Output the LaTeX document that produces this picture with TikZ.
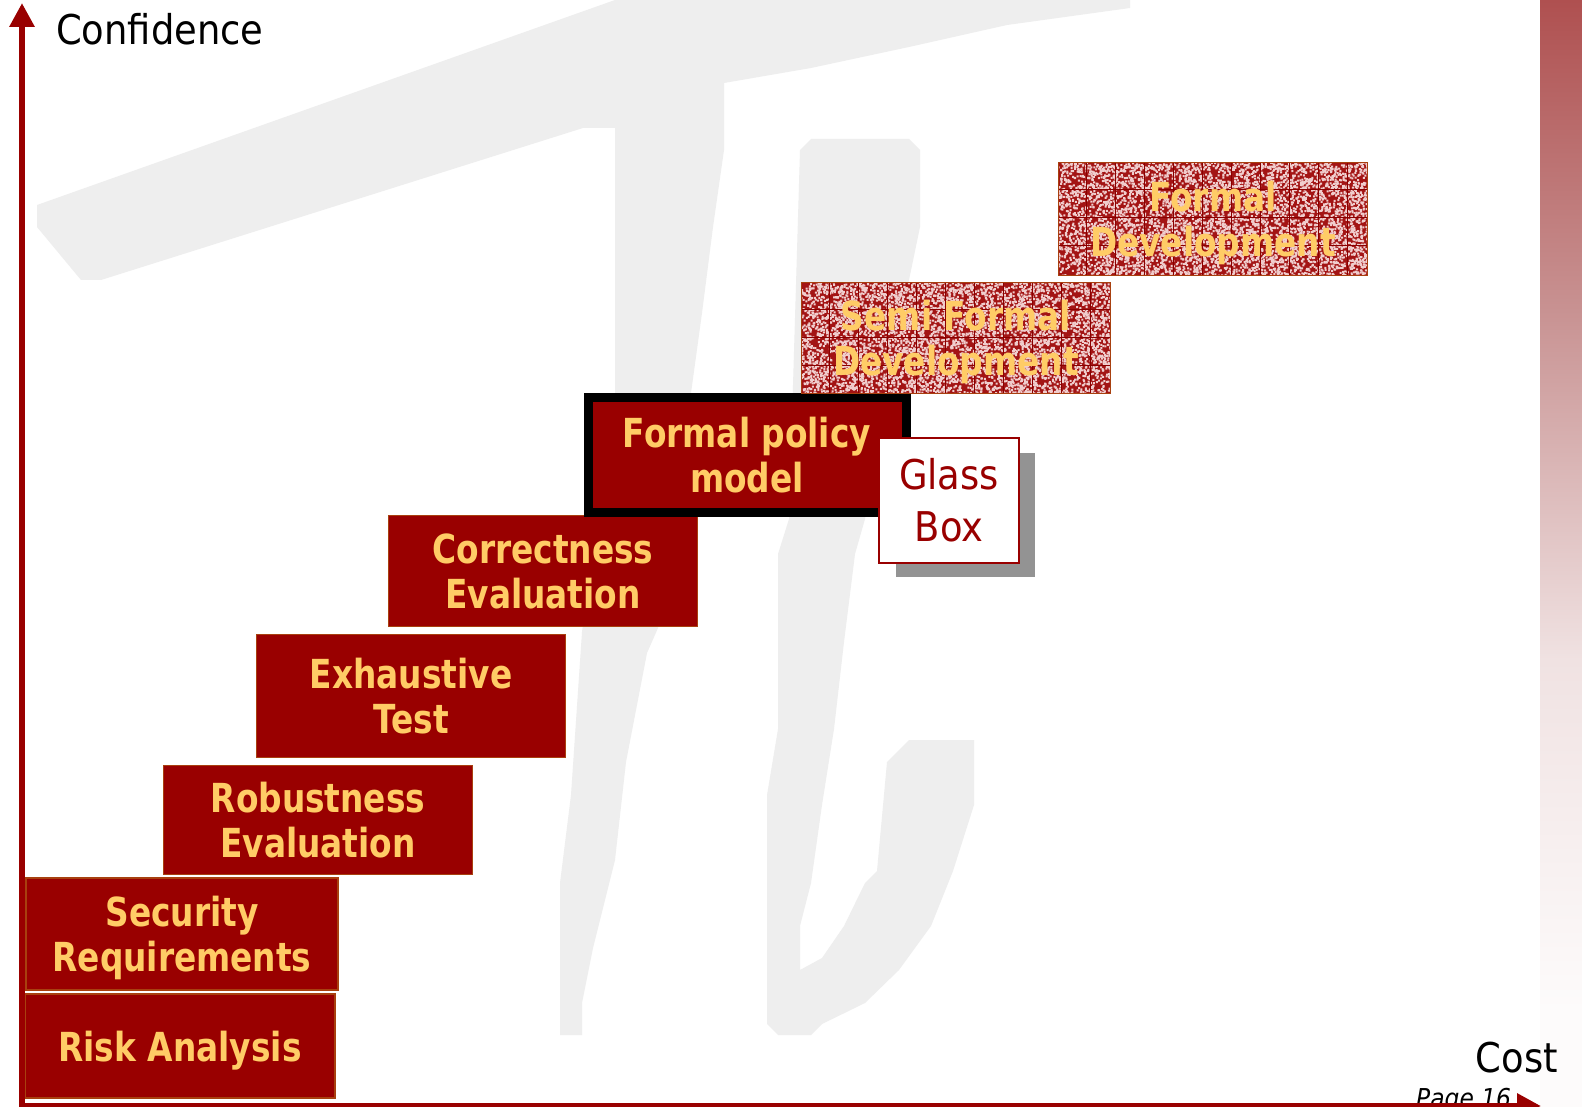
\documentclass[tikz,border=0pt]{standalone}
\usepackage{fontspec}
\setmainfont{DejaVu Sans}
\newfontfamily\labelfont[FakeStretch=0.9]{DejaVu Sans}
\newfontfamily\stepfont[FakeStretch=0.82]{DejaVu Sans}
\usetikzlibrary{arrows.meta}

\definecolor{boxred}{HTML}{990000}
\definecolor{boxedge}{HTML}{A8400F}
\definecolor{gold}{HTML}{FFCC66}
\definecolor{washgrey}{HTML}{EEEEEE}
\definecolor{texbase}{HTML}{A31414}
\definecolor{texdot}{HTML}{F0CDCD}
\definecolor{texgrid}{HTML}{8A0000}
\definecolor{shadowgrey}{HTML}{939393}
\definecolor{stripA}{HTML}{AF5050}
\definecolor{stripB}{HTML}{C99494}
\definecolor{stripC}{HTML}{F0E2E2}
\definecolor{stripD}{HTML}{FDFBFB}

\tikzset{
  inkwash/.style={fill=washgrey, draw=none},
  axisline/.style={draw=boxred, line width=6pt, -{Triangle[length=24pt,width=24pt]}},
  stepbox/.style={draw=boxedge, line width=1.6pt, fill=boxred, text=gold,
    font=\stepfont\bfseries\fontsize{40}{45}\selectfont, align=center, inner sep=0pt,
    text depth=0pt},
  texbox/.style={draw=boxedge, line width=1.6pt, fill=texbase, inner sep=0pt},
  textext/.style={text=gold, font=\stepfont\bfseries\fontsize{40}{45}\selectfont,
    align=center, inner sep=0pt, text depth=0pt},
  axislabel/.style={font=\labelfont\fontsize{41}{41}\selectfont, inner sep=0pt},
}

% speckled fill and grid for the textured boxes (speckles in batches)
\newcommand\speckle[1]{%
  \begin{scope}
    \clip ([shift={(1.5,1.5)}]#1.north west) rectangle ([shift={(-1.5,-1.5)}]#1.south east);
    \foreach \batch in {1,...,12} {
      \fill[texdot] \foreach \k in {1,...,500} {
        ([shift={({rnd*312},{rnd*116})}]#1.north west) rectangle ++(2,2) };
    }
    \foreach \k in {1,...,10}
      \draw[texgrid, line width=0.8pt] ([xshift=\k*29pt]#1.north west) -- ([xshift=\k*29pt]#1.south west);
    \foreach \k in {1,...,3}
      \draw[texgrid, line width=0.8pt] ([yshift=-\k*28pt]#1.north west) -- ([yshift=-\k*28pt]#1.north east);
  \end{scope}}

\begin{document}
\begin{tikzpicture}[x=1pt, y=-1pt]
\pgfmathsetseed{7}
\useasboundingbox[fill=white] (0,0) rectangle (1582,1107);

% watermark character in the background
\fill[inkwash] (37,205) -- (615,0) -- (1130,0) -- (1130,8) -- (1007,25) -- (909,47)
  -- (811,68) -- (724,83) -- (724,150) -- (713,227) -- (702,313) -- (691,393)
  -- (658,628) -- (647,653) -- (626,762) -- (615,860) -- (593,948) -- (582,1003)
  -- (582,1035) -- (560,1035) -- (560,883) -- (571,795) -- (582,632) -- (615,393)
  -- (615,128) -- (583,128) -- (101,280) -- (81,280) -- (37,227) -- cycle;
\fill[inkwash] (811,139) -- (909,139) -- (920,150) -- (920,227) -- (909,280)
  -- (865,519) -- (855,554) -- (844,642) -- (834,729) -- (822,805) -- (811,883)
  -- (800,926) -- (800,970) -- (822,958) -- (844,926) -- (865,883) -- (877,871)
  -- (887,762) -- (909,740) -- (974,740) -- (974,805) -- (953,871) -- (931,926)
  -- (899,970) -- (865,1003) -- (822,1024) -- (811,1035) -- (778,1035) -- (767,1024)
  -- (767,795) -- (778,729) -- (778,554) -- (789,519) -- (800,150) -- cycle;

% shaded strip on the right edge
\shade[top color=stripA, bottom color=stripB] (1540,0) rectangle (1582,320);
\shade[top color=stripB, bottom color=stripC] (1540,319) rectangle (1582,660);
\shade[top color=stripC, bottom color=stripD] (1540,659) rectangle (1582,1010);
\fill[stripD] (1540,1009) rectangle (1582,1107);

% the staircase of steps
\node[stepbox, minimum width=310, minimum height=104] (risk) at (180,1046) {Risk Analysis};
\node[stepbox, minimum width=312, minimum height=112] (secreq) at (182,934) {Security\\Requirements};
\node[stepbox, minimum width=309, minimum height=109] (robust) at (318,820) {Robustness\\Evaluation};
\node[stepbox, minimum width=309, minimum height=123] (exhaust) at (411,696) {Exhaustive\\Test};
\node[stepbox, minimum width=309, minimum height=111] (correct) at (543,571) {Correctness\\Evaluation};
\node[stepbox, draw=black, line width=9pt, minimum width=318, minimum height=115] (policy) at (747,455) {Formal policy\\model};

% textured upper steps
\node[texbox, minimum width=309, minimum height=111] (semi) at (956,338) {};
\speckle{semi}
\node[textext] (semitext) at (semi.center) {Semi Formal\\Development};
\node[texbox, minimum width=309, minimum height=113] (formal) at (1213,219) {};
\speckle{formal}
\node[textext] (formaltext) at (formal.center) {Formal\\Development};

% glass box with drop shadow
\fill[shadowgrey] (896,453) rectangle (1035,577);
\node[draw=boxred, line width=2pt, fill=white, minimum width=140, minimum height=125,
  inner sep=0pt, align=center, text=boxred, font=\labelfont\fontsize{41}{52}\selectfont]
  (glass) at (949,500) {Glass\\Box};

% axis labels
\node[axislabel, anchor=base west] (conf) at (56,45) {Confidence};
\node[axislabel, anchor=base east] (cost) at (1558,1072) {Cost};
\node[font=\labelfont\itshape\fontsize{26}{26}\selectfont, inner sep=0pt, anchor=base west]
  (page) at (1416,1107) {Page 16};

% axes
\coordinate (origin) at (22,1106);
\coordinate (ytip) at (22,3);
\coordinate (xtip) at (1541,1106);
\draw[axisline] (origin) -- (ytip);
\draw[axisline] ([xshift=-3pt]origin) -- (xtip);
\end{tikzpicture}
\end{document}
